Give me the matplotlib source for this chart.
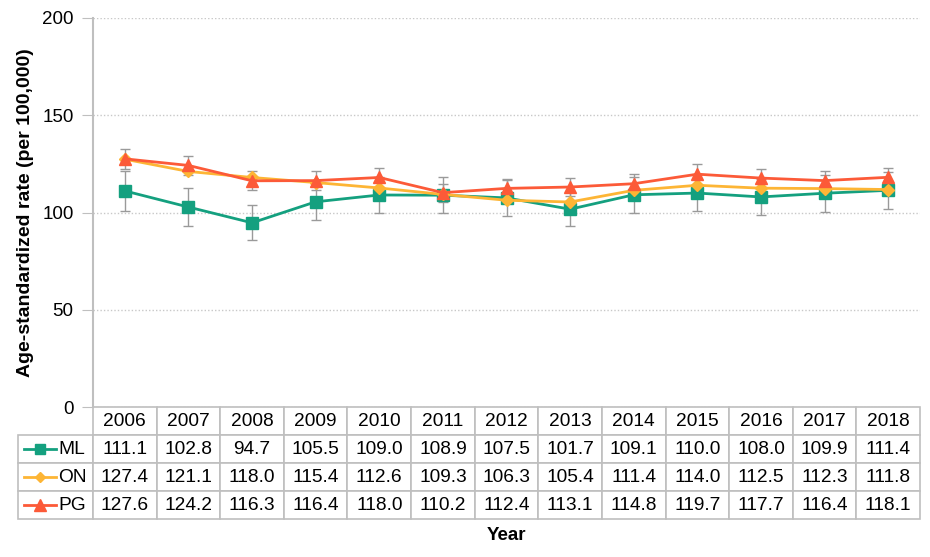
import matplotlib
matplotlib.use("Agg")
import matplotlib.pyplot as plt
from matplotlib.lines import Line2D

plt.rcParams['font.family'] = ['Liberation Sans', 'DejaVu Sans']

# Données
annees = ["2006", "2007", "2008", "2009", "2010", "2011", "2012",
          "2013", "2014", "2015", "2016", "2017", "2018"]
ml = [111.1, 102.8, 94.7, 105.5, 109.0, 108.9, 107.5, 101.7, 109.1, 110.0, 108.0, 109.9, 111.4]
on = [127.4, 121.1, 118.0, 115.4, 112.6, 109.3, 106.3, 105.4, 111.4, 114.0, 112.5, 112.3, 111.8]
pg = [127.6, 124.2, 116.3, 116.4, 118.0, 110.2, 112.4, 113.1, 114.8, 119.7, 117.7, 116.4, 118.1]
ml_err = [10.2, 9.6, 9.0, 9.4, 9.5, 9.4, 9.2, 8.7, 9.3, 9.4, 9.2, 9.4, 9.5]
pg_err = [5.0, 5.0, 4.8, 4.8, 4.9, 4.7, 4.8, 4.8, 4.9, 5.0, 4.9, 4.8, 4.9]

c_ml = "#14A07F"
c_on = "#FDB535"
c_pg = "#FC5A38"
gris = "#BFBFBF"

W, H = 930, 557
fig = plt.figure(figsize=(W / 100, H / 100), dpi=100)
ax = fig.add_axes([93 / W, (H - 407) / H, (920 - 93) / W, (407 - 18) / H])

x = list(range(len(annees)))

# barres d'erreur
ax.errorbar(x, ml, yerr=ml_err, fmt="none", ecolor="#9A9A9A", elinewidth=1, capsize=3.5, zorder=2)
ax.errorbar(x, pg, yerr=pg_err, fmt="none", ecolor="#9A9A9A", elinewidth=1, capsize=3.5, zorder=2)

# séries
ax.plot(x, ml, color=c_ml, marker="s", markersize=9, linewidth=2, zorder=3)
ax.plot(x, on, color=c_on, marker="D", markersize=6, linewidth=2, zorder=4)
ax.plot(x, pg, color=c_pg, marker="^", markersize=9, linewidth=2, zorder=5)

ax.set_xlim(-0.5, len(annees) - 0.5)
ax.set_ylim(0, 200)
ax.set_yticks([0, 50, 100, 150, 200])
ax.set_xticks([])
ax.yaxis.grid(True, linestyle=(0, (1, 1.5)), color="#C8C8C8", linewidth=1)
ax.set_axisbelow(True)
for s in ["top", "right", "bottom"]:
    ax.spines[s].set_visible(False)
ax.spines["left"].set_color(gris)
ax.spines["left"].set_linewidth(1.5)
ax.tick_params(axis="y", length=8, color=gris, labelsize=13.5, pad=6)
ax.set_ylabel("Age-standardized rate (per 100,000)", fontsize=14, fontweight="bold", labelpad=6)

# tableau de données
lignes = [[""] + annees]
for serie in (ml, on, pg):
    lignes.append([""] + [f"{v:.1f}" for v in serie])

larg_lbl = 75 / 827
larg_col = 1.0 / len(annees)
tab = ax.table(cellText=lignes, cellLoc="center",
               colWidths=[larg_lbl] + [larg_col] * len(annees),
               bbox=[-larg_lbl, -(519 - 407) / 389, 1 + larg_lbl, (519 - 407) / 389])
tab.auto_set_font_size(False)
tab.set_fontsize(13.8)
for (r, c), cell in tab.get_celld().items():
    cell.set_edgecolor(gris)
    cell.set_linewidth(1.2)
    if r == 0 and c == 0:
        cell.visible_edges = ""

# légende dans le tableau
for nom, couleur, mk, ms, yc in [("ML", c_ml, "s", 7, 449), ("ON", c_on, "D", 5, 477), ("PG", c_pg, "^", 8, 505)]:
    fig.add_artist(Line2D([24 / W, 56 / W], [(H - yc) / H] * 2, color=couleur, linewidth=2))
    fig.add_artist(Line2D([40 / W], [(H - yc) / H], color=couleur, marker=mk, markersize=ms, linestyle="none"))
    fig.text(58 / W, (H - yc) / H, nom, fontsize=13.8, va="center", ha="left")

fig.text(506 / W, (H - 536) / H, "Year", fontsize=13.5, fontweight="bold", ha="center", va="center")

fig.savefig("out.png", dpi=100)
